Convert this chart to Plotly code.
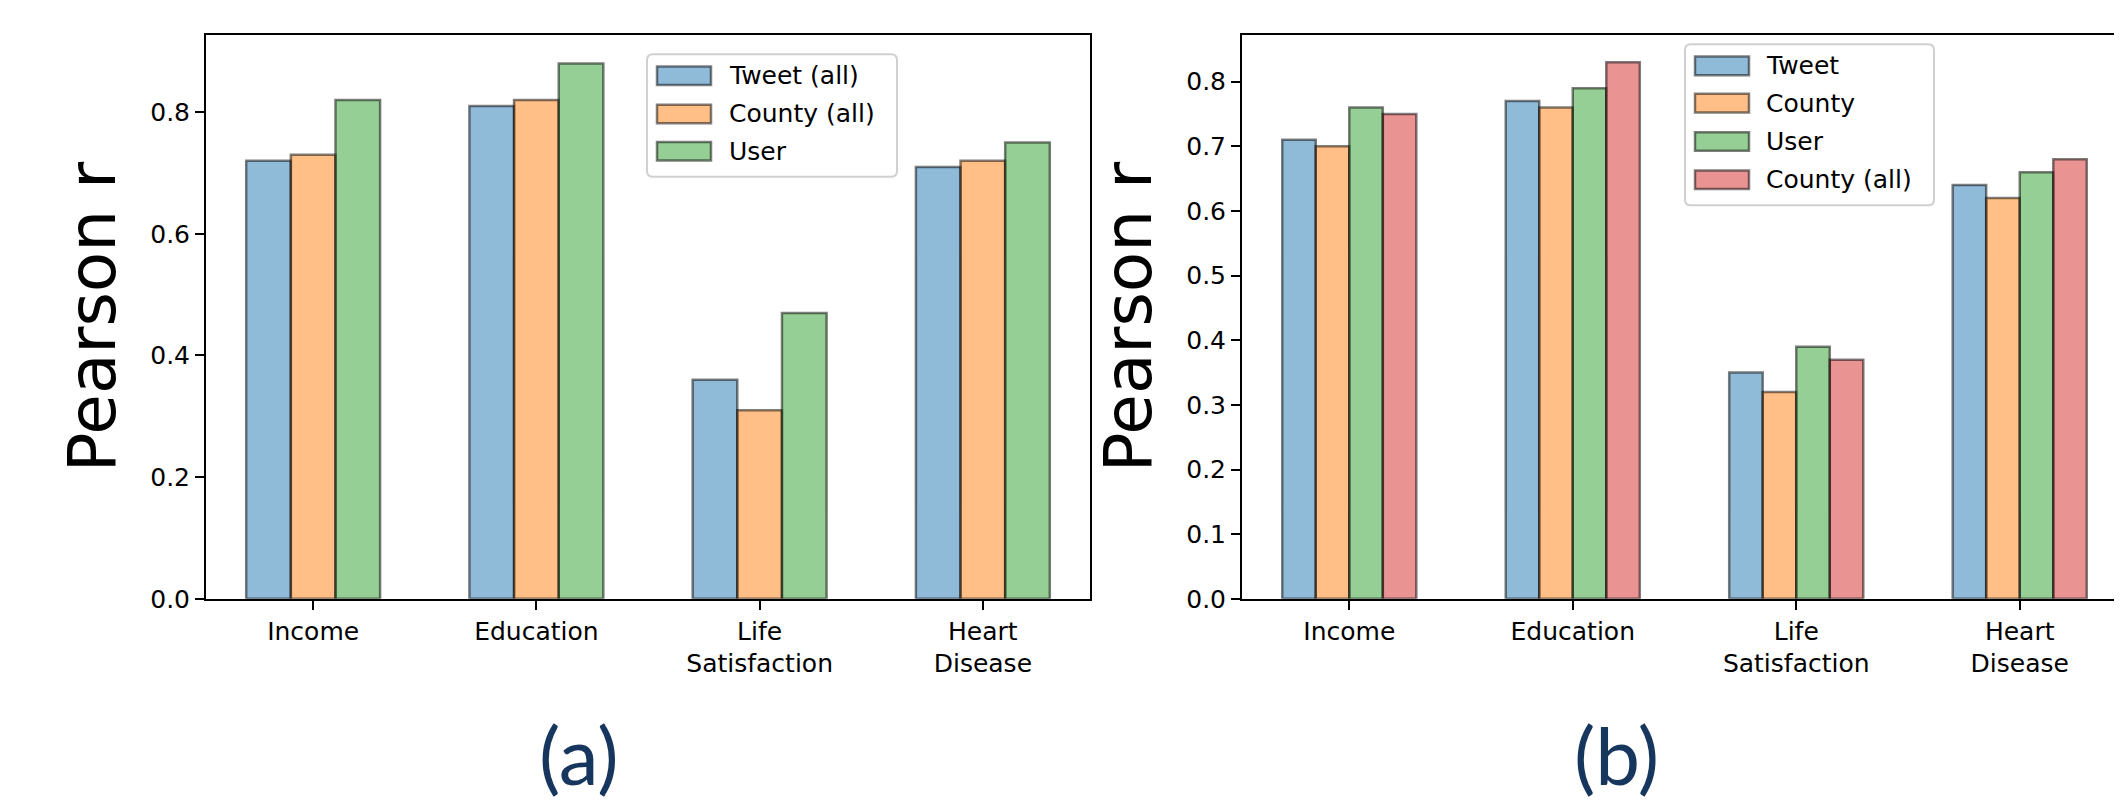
import plotly.graph_objects as go

W, H = 2122, 807

categories = ["Income", "Education", "Life<br>Satisfaction", "Heart<br>Disease"]

# panel (a)
names_a = ["Tweet (all)", "County (all)", "User"]
tweet_all_a = [0.72, 0.81, 0.36, 0.71]
county_all_a = [0.73, 0.82, 0.31, 0.72]
user_a = [0.82, 0.88, 0.47, 0.75]
values_a = [tweet_all_a, county_all_a, user_a]

# panel (b)
names_b = ["Tweet", "County", "User", "County (all)"]
tweet_b = [0.71, 0.77, 0.35, 0.64]
county_b = [0.70, 0.76, 0.32, 0.62]
user_b = [0.76, 0.79, 0.39, 0.66]
county_all_b = [0.75, 0.83, 0.37, 0.68]
values_b = [tweet_b, county_b, user_b, county_all_b]

ticks_a = [0.0, 0.2, 0.4, 0.6, 0.8]
ticks_b = [0.0, 0.1, 0.2, 0.3, 0.4, 0.5, 0.6, 0.7, 0.8]

colors_a = ["rgba(31,119,180,0.5)", "rgba(255,127,14,0.5)", "rgba(44,160,44,0.5)"]
colors_b = ["rgba(31,119,180,0.5)", "rgba(255,127,14,0.5)", "rgba(44,160,44,0.5)",
            "rgba(214,39,40,0.5)"]
EDGE = "rgba(0,0,0,0.5)"
FONT = "DejaVu Sans"


def px(x):
    return x / W


def py(y):
    return 1 - y / H


xpos = list(range(len(categories)))
fig = go.Figure()

group_width = 0.6
for vals_list, names, colors, xa, ya in [
    (values_a, names_a, colors_a, "x", "y"),
    (values_b, names_b, colors_b, "x2", "y2"),
]:
    n = len(vals_list)
    w = group_width / n
    for i, (vals, nm, col) in enumerate(zip(vals_list, names, colors)):
        fig.add_trace(go.Bar(
            x=xpos, y=vals, name=nm, width=w, offset=-group_width / 2 + i * w,
            marker=dict(color=col, line=dict(color=EDGE, width=2.5)),
            xaxis=xa, yaxis=ya, showlegend=False,
        ))

axis_common = dict(showline=True, linecolor="black", linewidth=2, mirror=True,
                   ticks="outside", ticklen=9, tickwidth=2, tickcolor="black",
                   showgrid=False, zeroline=False,
                   tickfont=dict(family=FONT, size=25, color="black"))

ydom = [py(602), py(28)]
fig.update_layout(
    width=W, height=H, margin=dict(l=0, r=0, t=0, b=0),
    plot_bgcolor="white", paper_bgcolor="white", barmode="overlay",
    xaxis=dict(domain=[px(198), px(1082)], range=[-0.48, 3.48], anchor="y",
               tickvals=xpos, ticktext=categories, **axis_common),
    yaxis=dict(domain=ydom, range=[0, 0.926], anchor="x",
               tickvals=ticks_a, ticktext=[f"{t:.1f}" for t in ticks_a], **axis_common),
    xaxis2=dict(domain=[px(1234), px(2119)], range=[-0.48, 3.48], anchor="y2",
                tickvals=xpos, ticktext=categories, **axis_common),
    yaxis2=dict(domain=ydom, range=[0, 0.8715], anchor="x2",
                tickvals=ticks_b, ticktext=[f"{t:.1f}" for t in ticks_b], **axis_common),
)

shapes = []
annotations = []


def rounded_rect(x0, y0, x1, y1, r):
    def P(x, y):
        return f"{px(x)},{py(y)}"
    path = (f"M {P(x0 + r, y0)} L {P(x1 - r, y0)} Q {P(x1, y0)} {P(x1, y0 + r)} "
            f"L {P(x1, y1 - r)} Q {P(x1, y1)} {P(x1 - r, y1)} "
            f"L {P(x0 + r, y1)} Q {P(x0, y1)} {P(x0, y1 - r)} "
            f"L {P(x0, y0 + r)} Q {P(x0, y0)} {P(x0 + r, y0)} Z")
    return path


def add_legend(box, hx0, hx1, tx, rows, names, colors):
    x0, y0, x1, y1 = box
    shapes.append(dict(type="path", xref="paper", yref="paper",
                       path=rounded_rect(x0, y0, x1, y1, 6),
                       fillcolor="rgba(255,255,255,0.8)",
                       line=dict(color="#d0d0d0", width=2)))
    for yc, nm, col in zip(rows, names, colors):
        shapes.append(dict(type="rect", xref="paper", yref="paper",
                           x0=px(hx0), x1=px(hx1), y0=py(yc - 9.5), y1=py(yc + 9.5),
                           fillcolor=col, line=dict(color=EDGE, width=2.5)))
        annotations.append(dict(x=px(tx), y=py(yc), xref="paper", yref="paper",
                                text=nm, showarrow=False, xanchor="left", yanchor="middle",
                                font=dict(family=FONT, size=25, color="black")))


add_legend((639, 47, 889, 172), 649, 703, 719, [69, 108, 146], names_a, colors_a)
add_legend((1677, 37, 1926, 201), 1687, 1741, 1756, [59, 97, 136, 175], names_b, colors_b)

# y-axis titles
for xc in [84, 1120]:
    annotations.append(dict(x=px(xc), y=py(315), xref="paper", yref="paper",
                            text="Pearson r", textangle=-90, showarrow=False,
                            xanchor="center", yanchor="middle",
                            font=dict(family=FONT, size=66, color="black")))

# panel labels
for xc, lab in [(571, "(a)"), (1608, "(b)")]:
    annotations.append(dict(x=px(xc), y=py(760), xref="paper", yref="paper",
                            text=lab, showarrow=False, xanchor="center", yanchor="middle",
                            font=dict(family="Lato", size=80, color="#17365d")))

fig.update_layout(shapes=shapes, annotations=annotations)
fig.write_html("out.html")
